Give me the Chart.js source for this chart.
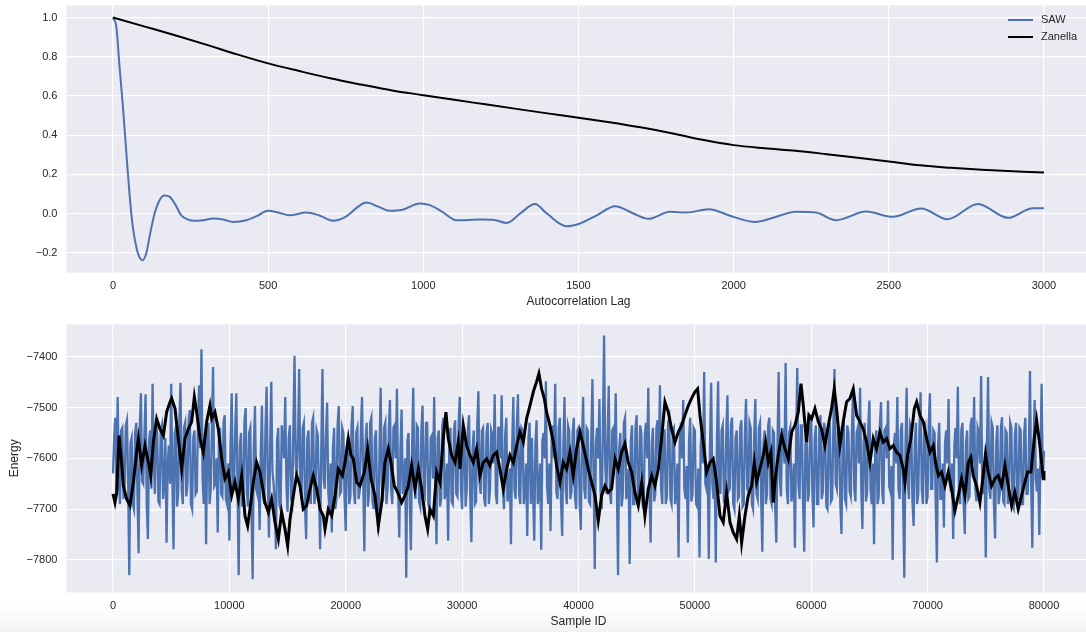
<!DOCTYPE html>
<html>
<head>
<meta charset="utf-8">
<script src="https://cdn.jsdelivr.net/npm/chart.js@4.4.1/dist/chart.umd.min.js"></script>
<style>
  html, body { margin: 0; padding: 0; background: #fff; overflow: hidden; }
  #wrap { position: relative; width: 1086px; height: 632px; overflow: hidden; }
  #shade { position: absolute; left: 0; right: 0; bottom: 0; height: 26px;
           background: linear-gradient(to bottom, rgba(0,0,0,0), rgba(0,0,0,0.05)); }
  canvas { position: absolute; left: 0; }
  #acf { top: 0; }
  #energy { top: 316px; }
</style>
</head>
<body>
<div id="wrap">
  <div id="shade"></div>
  <canvas id="acf" width="1092" height="316"></canvas>
  <canvas id="energy" width="1092" height="316"></canvas>
</div>
<script>
// ---- top panel: autocorrelation ----
const lagTicks = [0, 500, 1000, 1500, 2000, 2500, 3000];
const acfTicks = [-0.2, 0.0, 0.2, 0.4, 0.6, 0.8, 1.0];

const sawLag = [0, 11, 21, 32, 43, 54, 64, 75, 86, 95, 107, 120, 134, 150, 166, 183, 199, 220, 242, 263,
  290, 322, 355, 387, 430, 465, 499, 535, 569, 623, 665, 709, 752, 790, 816, 855, 891, 930, 989, 1021,
  1060, 1107, 1183, 1230, 1269, 1312, 1360, 1398, 1462, 1505, 1559, 1618, 1677, 1725, 1795, 1849, 1919, 1999, 2069, 2130,
  2201, 2265, 2330, 2427, 2513, 2604, 2690, 2787, 2884, 2964, 3000];
const sawAcf = [1.0, 0.95, 0.75, 0.545, 0.31, 0.085, -0.07, -0.17, -0.226, -0.238, -0.204, -0.10, 0.0, 0.068, 0.092, 0.085, 0.051, -0.009, -0.031, -0.037,
  -0.034, -0.026, -0.030, -0.043, -0.034, -0.012, 0.014, 0.004, -0.009, 0.005, -0.010, -0.037, -0.014, 0.035, 0.056, 0.035, 0.014, 0.018, 0.051, 0.043,
  0.010, -0.034, -0.031, -0.033, -0.048, 0.0, 0.048, 0.0, -0.065, -0.051, -0.009, 0.037, 0.0, -0.027, 0.009, 0.005, 0.022, -0.017, -0.043, -0.020,
  0.009, 0.005, -0.034, 0.010, -0.017, 0.026, -0.029, 0.049, -0.022, 0.027, 0.027];

const zanLag = [0, 100, 200, 300, 400, 500, 600, 700, 800, 900, 1000, 1100, 1200, 1300, 1400, 1500,
  1600, 1700, 1800, 1900, 2000, 2100, 2200, 2300, 2400, 2500, 2600, 2700, 2800, 2900, 3000];
const zanAcf = [1.0, 0.955, 0.91, 0.862, 0.812, 0.766, 0.727, 0.69, 0.658, 0.628, 0.604, 0.58, 0.557, 0.534, 0.511, 0.489,
  0.466, 0.44, 0.41, 0.376, 0.349, 0.333, 0.32, 0.303, 0.285, 0.266, 0.246, 0.233, 0.223, 0.216, 0.209];

// ---- bottom panel: energy trace ----
const sampleTicks = [0, 10000, 20000, 30000, 40000, 50000, 60000, 70000, 80000];
const energyTicks = [-7800, -7700, -7600, -7500, -7400];

const sampleStep = 200;   // SAW energies at samples 0, 200, 400, ... 80000
const sawEnergy = [
  -7630,-7520,-7479,-7690,-7540,-7660,-7525,-7830,-7560,-7700,-7530,-7787,-7472,-7650,-7474,-7759,-7545,-7453,-7670,-7550,
  -7690,-7535,-7655,-7766,-7575,-7453,-7779,-7540,-7670,-7451,-7690,-7530,-7650,-7505,-7700,-7545,-7665,-7456,-7385,-7690,
  -7769,-7530,-7660,-7420,-7650,-7746,-7540,-7675,-7515,-7690,-7762,-7472,-7660,-7472,-7830,-7550,-7680,-7501,-7695,-7540,
  -7838,-7497,-7670,-7741,-7496,-7690,-7459,-7756,-7449,-7650,-7779,-7540,-7700,-7560,-7479,-7705,-7535,-7690,-7398,-7640,
  -7424,-7680,-7530,-7759,-7545,-7690,-7520,-7670,-7555,-7779,-7424,-7660,-7490,-7700,-7746,-7540,-7680,-7497,-7665,-7550,
  -7743,-7560,-7675,-7497,-7690,-7540,-7665,-7479,-7783,-7530,-7670,-7520,-7700,-7545,-7746,-7461,-7685,-7530,-7660,-7485,
  -7690,-7535,-7463,-7756,-7504,-7650,-7835,-7550,-7781,-7461,-7680,-7540,-7695,-7496,-7670,-7530,-7700,-7555,-7479,-7769,
  -7545,-7680,-7520,-7665,-7762,-7540,-7690,-7525,-7675,-7479,-7700,-7550,-7660,-7515,-7765,-7545,-7685,-7468,-7670,-7540,
  -7695,-7530,-7660,-7555,-7474,-7690,-7540,-7476,-7700,-7520,-7665,-7769,-7479,-7680,-7474,-7690,-7545,-7670,-7753,-7530,
  -7560,-7762,-7525,-7675,-7780,-7550,-7448,-7690,-7743,-7535,-7453,-7680,-7520,-7753,-7479,-7690,-7545,-7665,-7520,-7700,
  -7540,-7741,-7479,-7680,-7545,-7690,-7444,-7818,-7540,-7483,-7700,-7358,-7670,-7457,-7690,-7540,-7472,-7830,-7550,-7675,
  -7520,-7665,-7808,-7535,-7690,-7515,-7680,-7550,-7700,-7530,-7461,-7766,-7540,-7670,-7525,-7456,-7690,-7545,-7675,-7520,
  -7690,-7540,-7665,-7795,-7530,-7485,-7680,-7766,-7520,-7670,-7545,-7695,-7795,-7540,-7430,-7660,-7798,-7451,-7680,-7805,
  -7448,-7670,-7535,-7690,-7476,-7660,-7520,-7700,-7545,-7675,-7525,-7690,-7483,-7665,-7540,-7700,-7483,-7680,-7530,-7784,
  -7545,-7670,-7520,-7690,-7550,-7766,-7430,-7675,-7560,-7412,-7690,-7540,-7665,-7776,-7422,-7680,-7535,-7784,-7540,-7670,
  -7520,-7736,-7535,-7690,-7515,-7665,-7545,-7700,-7530,-7680,-7424,-7660,-7540,-7749,-7525,-7690,-7550,-7675,-7464,-7685,
  -7540,-7461,-7739,-7530,-7670,-7486,-7690,-7769,-7545,-7675,-7489,-7690,-7540,-7486,-7665,-7800,-7550,-7479,-7680,-7530,
  -7835,-7461,-7680,-7545,-7733,-7530,-7670,-7470,-7690,-7540,-7675,-7472,-7660,-7550,-7805,-7530,-7680,-7736,-7545,-7483,
  -7665,-7759,-7540,-7459,-7690,-7530,-7749,-7545,-7675,-7520,-7479,-7685,-7550,-7438,-7670,-7795,-7440,-7680,-7540,-7758,
  -7535,-7670,-7519,-7690,-7550,-7665,-7540,-7700,-7530,-7680,-7545,-7690,-7520,-7670,-7428,-7776,-7485,-7665,-7751,-7453,
  -7585];
// SAW energies at the samples in between: 100, 300, 500, ... 79900
const sawEnergyMid = [
  -7560,-7665,-7640,-7545,-7680,-7535,-7650,-7570,-7690,-7550,-7670,-7540,-7645,-7555,-7690,-7565,-7660,-7600,-7530,-7685,
  -7545,-7680,-7560,-7610,-7650,-7640,-7550,-7695,-7530,-7660,-7540,-7675,-7525,-7690,-7560,-7670,-7535,-7580,-7640,-7550,
  -7555,-7690,-7540,-7655,-7600,-7560,-7670,-7530,-7680,-7610,-7570,-7660,-7545,-7650,-7575,-7695,-7525,-7665,-7550,-7700,
  -7580,-7660,-7620,-7590,-7675,-7545,-7640,-7580,-7625,-7690,-7565,-7690,-7535,-7600,-7650,-7560,-7680,-7540,-7610,-7560,
  -7650,-7540,-7695,-7560,-7675,-7530,-7690,-7545,-7660,-7575,-7640,-7555,-7665,-7610,-7580,-7700,-7535,-7670,-7540,-7680,
  -7575,-7690,-7535,-7665,-7550,-7680,-7545,-7640,-7570,-7695,-7530,-7685,-7560,-7690,-7590,-7650,-7540,-7690,-7545,-7660,
  -7540,-7600,-7660,-7580,-7670,-7600,-7565,-7690,-7580,-7650,-7535,-7685,-7545,-7660,-7530,-7690,-7560,-7640,-7650,-7560,
  -7695,-7535,-7680,-7610,-7570,-7685,-7545,-7670,-7530,-7660,-7555,-7695,-7540,-7675,-7580,-7690,-7535,-7650,-7545,-7680,
  -7550,-7690,-7545,-7610,-7670,-7540,-7600,-7660,-7555,-7685,-7620,-7580,-7660,-7535,-7670,-7540,-7690,-7610,-7560,-7690,
  -7670,-7570,-7690,-7610,-7565,-7600,-7655,-7610,-7560,-7600,-7665,-7540,-7685,-7575,-7660,-7535,-7680,-7550,-7675,-7545,
  -7690,-7565,-7660,-7540,-7685,-7560,-7640,-7570,-7600,-7665,-7540,-7610,-7560,-7665,-7545,-7610,-7655,-7580,-7695,-7530,
  -7680,-7620,-7565,-7690,-7540,-7675,-7535,-7690,-7555,-7600,-7665,-7570,-7685,-7540,-7610,-7660,-7545,-7690,-7530,-7680,
  -7545,-7690,-7610,-7570,-7600,-7660,-7615,-7565,-7685,-7540,-7690,-7620,-7575,-7610,-7650,-7615,-7575,-7650,-7620,-7560,
  -7655,-7545,-7685,-7550,-7665,-7535,-7690,-7560,-7680,-7540,-7695,-7550,-7660,-7530,-7690,-7555,-7670,-7540,-7680,-7570,
  -7690,-7535,-7680,-7545,-7695,-7580,-7640,-7540,-7610,-7660,-7550,-7685,-7610,-7570,-7650,-7535,-7690,-7575,-7685,-7545,
  -7670,-7560,-7690,-7540,-7680,-7530,-7695,-7550,-7685,-7545,-7650,-7540,-7690,-7570,-7680,-7535,-7665,-7545,-7660,-7550,
  -7610,-7660,-7570,-7685,-7540,-7660,-7610,-7565,-7690,-7535,-7665,-7545,-7600,-7655,-7615,-7575,-7610,-7660,-7545,-7690,
  -7580,-7650,-7535,-7685,-7565,-7690,-7540,-7660,-7550,-7690,-7530,-7660,-7545,-7690,-7575,-7680,-7610,-7570,-7610,-7650,
  -7610,-7575,-7600,-7665,-7545,-7690,-7570,-7680,-7535,-7610,-7660,-7540,-7610,-7655,-7620,-7575,-7660,-7530,-7690,-7570,
  -7690,-7540,-7685,-7545,-7690,-7530,-7695,-7555,-7680,-7540,-7690,-7550,-7670,-7600,-7650,-7580,-7640,-7620,-7590,-7640];

const zanSample = [0, 170, 320, 520, 690, 890, 1170, 1460, 1750, 2030, 2180, 2460, 2750, 3040, 3240, 3470, 3750, 4040, 4330, 4610,
  4900, 5040, 5330, 5610, 5900, 6190, 6470, 6760, 6990, 7190, 7480, 7760, 8050, 8330, 8480, 8760, 9050, 9340, 9620, 9910,
  10200, 10480, 10770, 11060, 11340, 11570, 11770, 12060, 12340, 12630, 12920, 13060, 13350, 13630, 13920, 14210, 14490, 14780, 15010, 15210,
  15500, 15780, 16070, 16350, 16640, 16930, 17210, 17500, 17790, 18070, 18220, 18500, 18790, 19080, 19360, 19710, 19940, 20220, 20450, 20650,
  20940, 21220, 21600, 21880, 22170, 22510, 22800, 23090, 23370, 23660, 23890, 24170, 24460, 24800, 25090, 25380, 25660, 25950, 26240, 26520,
  26810, 27040, 27240, 27530, 27810, 28100, 28380, 28610, 28810, 29100, 29390, 29670, 29820, 30100, 30390, 30680, 30960, 31250, 31530, 31820,
  32110, 32390, 32680, 32970, 33250, 33540, 33830, 34110, 34400, 34690, 34970, 35260, 35540, 35830, 36120, 36400, 36600, 36830, 37060, 37260,
  37550, 37840, 38120, 38410, 38690, 38980, 39270, 39550, 39840, 40130, 40410, 40840, 41130, 41420, 41700, 41990, 42280, 42560, 42850, 43140,
  43420, 43710, 43990, 44280, 44570, 44850, 45140, 45430, 45710, 46000, 46290, 46570, 46860, 47140, 47430, 47720, 48000, 48290, 48580, 48860,
  49150, 49440, 49720, 50010, 50240, 50440, 50720, 51010, 51300, 51580, 51870, 52160, 52440, 52730, 53020, 53300, 53590, 53820, 54020, 54310,
  54590, 54880, 55110, 55310, 55590, 55880, 56080, 56310, 56540, 56740, 56940, 57170, 57460, 57740, 58030, 58320, 58600, 58890, 59120, 59320,
  59600, 59800, 60030, 60320, 60610, 60890, 61180, 61470, 61750, 61980, 62180, 62470, 62750, 63040, 63330, 63610, 63900, 64190, 64470, 64760,
  65050, 65330, 65620, 65900, 66190, 66480, 66760, 67050, 67340, 67620, 67910, 68050, 68280, 68570, 68860, 69060, 69340, 69630, 69920, 70200,
  70490, 70690, 70920, 71200, 71490, 71780, 72060, 72350, 72640, 72920, 73210, 73500, 73720, 73920, 74210, 74500, 74780, 74980, 75210, 75500,
  75790, 76070, 76360, 76650, 76930, 77220, 77500, 77790, 78080, 78360, 78590, 78880, 79170, 79370, 79650, 79940, 80000];
const zanEnergy = [-7670, -7687, -7667, -7555, -7594, -7654, -7680, -7693, -7647, -7588, -7561, -7614, -7575, -7608, -7634, -7568, -7522, -7542, -7555, -7509,
  -7489, -7482, -7502, -7561, -7621, -7561, -7542, -7528, -7479, -7509, -7561, -7588, -7528, -7496, -7522, -7509, -7542, -7601, -7640, -7627,
  -7673, -7647, -7680, -7634, -7713, -7733, -7700, -7647, -7608, -7627, -7667, -7687, -7706, -7680, -7726, -7759, -7706, -7739, -7772, -7720,
  -7673, -7634, -7654, -7700, -7693, -7660, -7634, -7660, -7700, -7713, -7739, -7700, -7713, -7673, -7621, -7634, -7608, -7561, -7594, -7601,
  -7647, -7654, -7627, -7581, -7640, -7673, -7733, -7687, -7608, -7581, -7608, -7654, -7667, -7687, -7673, -7654, -7614, -7660, -7621, -7660,
  -7713, -7739, -7700, -7713, -7627, -7647, -7561, -7509, -7561, -7594, -7608, -7568, -7621, -7535, -7575, -7594, -7608, -7581, -7634, -7608,
  -7601, -7614, -7594, -7588, -7621, -7660, -7621, -7594, -7608, -7575, -7548, -7568, -7522, -7496, -7469, -7449, -7433, -7463, -7482, -7509,
  -7535, -7568, -7614, -7647, -7608, -7621, -7588, -7634, -7581, -7548, -7575, -7621, -7647, -7673, -7723, -7673, -7654, -7667, -7660, -7601,
  -7621, -7588, -7571, -7608, -7627, -7667, -7693, -7647, -7713, -7660, -7634, -7654, -7621, -7561, -7489, -7509, -7542, -7568, -7548, -7535,
  -7515, -7496, -7482, -7469, -7463, -7515, -7568, -7627, -7608, -7601, -7647, -7713, -7726, -7667, -7726, -7746, -7759, -7713, -7766, -7713,
  -7673, -7654, -7608, -7647, -7621, -7594, -7568, -7608, -7588, -7687, -7634, -7594, -7555, -7581, -7601, -7548, -7535, -7509, -7453, -7496,
  -7568, -7515, -7522, -7502, -7528, -7542, -7575, -7535, -7502, -7463, -7502, -7575, -7528, -7489, -7482, -7463, -7515, -7528, -7542, -7568,
  -7608, -7561, -7581, -7548, -7568, -7561, -7581, -7575, -7588, -7594, -7621, -7647, -7594, -7561, -7502, -7489, -7515, -7528, -7561, -7588,
  -7575, -7608, -7634, -7627, -7654, -7627, -7660, -7703, -7673, -7640, -7673, -7608, -7598, -7634, -7654, -7687, -7634, -7591, -7627, -7654,
  -7640, -7634, -7654, -7614, -7654, -7693, -7667, -7700, -7673, -7647, -7627, -7627, -7561, -7525, -7575, -7640, -7625];

const seriesNames = ['SAW', 'Zanella'];
const seriesColors = ['#4c72b0', '#000000'];

Chart.defaults.font.family = "'Liberation Sans', Arial, Helvetica, sans-serif";
Chart.defaults.color = '#262626';
Chart.defaults.animation = false;

const textColor = '#262626';
const minus = s => String(s).replace('-', '\u2212');

const plotBg = {
  id: 'plotBg',
  beforeDraw(chart) {
    const { ctx, chartArea: a } = chart;
    ctx.save();
    ctx.fillStyle = '#eaeaf2';
    ctx.fillRect(a.left, a.top, a.right - a.left, a.bottom - a.top);
    ctx.restore();
  }
};

// little matplotlib style legend in the upper right corner of the plot
const cornerLegend = {
  id: 'cornerLegend',
  afterDraw(chart) {
    const { ctx, chartArea: a } = chart;
    ctx.save();
    ctx.font = "11px 'Liberation Sans', Arial, sans-serif";
    ctx.textBaseline = 'middle';
    ctx.fillStyle = textColor;
    chart.data.datasets.forEach((ds, i) => {
      const y = a.top + 14.6 + i * 17;
      ctx.strokeStyle = ds.borderColor;
      ctx.lineWidth = 2;
      ctx.beginPath();
      ctx.moveTo(a.right - 82.5, y);
      ctx.lineTo(a.right - 57.5, y);
      ctx.stroke();
      ctx.fillText(ds.label, a.right - 49.5, y);
    });
    ctx.restore();
  }
};

function xAxis(min, max, tickList, title, height, titlePad) {
  return {
    type: 'linear', min: min, max: max,
    grid: { color: '#ffffff', lineWidth: 1.2, drawTicks: false },
    border: { display: false },
    ticks: { autoSkip: false, maxRotation: 0, padding: 7, color: textColor,
             font: { size: 11 }, callback: v => String(v) },
    afterBuildTicks: s => { s.ticks = tickList.map(v => ({ value: v })); },
    title: { display: true, text: title, color: textColor, font: { size: 12 },
             padding: { top: 0, bottom: titlePad } },
    afterFit: s => { s.height = height; s.paddingLeft = 0; s.paddingRight = 0; }
  };
}

function yAxis(min, max, tickList, fmt, title) {
  return {
    min: min, max: max,
    grid: { color: '#ffffff', lineWidth: 1.2, drawTicks: false },
    border: { display: false },
    ticks: { autoSkip: false, padding: 9, color: textColor, font: { size: 11 }, callback: fmt },
    afterBuildTicks: s => { s.ticks = tickList.map(v => ({ value: v })); },
    title: { display: !!title, text: title || '', color: textColor, font: { size: 12 },
             padding: { top: 7.8, bottom: 0 } },
    afterFit: s => { s.width = 66.45; s.paddingTop = 0; s.paddingBottom = 0; }
  };
}

const toPoints = (xs, ys) => ys.map((y, i) => ({ x: xs[i], y: y }));

// interleave the two SAW arrays into one trace
const sawTrace = [];
sawEnergy.forEach((e, i) => {
  sawTrace.push({ x: i * sampleStep, y: e });
  if (i < sawEnergyMid.length) sawTrace.push({ x: i * sampleStep + sampleStep / 2, y: sawEnergyMid[i] });
});

new Chart(document.getElementById('acf'), {
  type: 'line',
  data: {
    datasets: [
      { label: seriesNames[0], data: toPoints(sawLag, sawAcf), borderColor: seriesColors[0],
        borderWidth: 2, pointRadius: 0, cubicInterpolationMode: 'monotone', order: 1 },
      { label: seriesNames[1], data: toPoints(zanLag, zanAcf), borderColor: seriesColors[1],
        borderWidth: 2, pointRadius: 0, cubicInterpolationMode: 'monotone', order: 0 }
    ]
  },
  options: {
    responsive: false,
    parsing: false,
    layout: { padding: { top: 5.4, right: 1.5, left: 0, bottom: 0 } },
    plugins: { legend: { display: false }, tooltip: { enabled: false } },
    scales: {
      x: xAxis(-150, 3150, lagTicks, 'Autocorrelation Lag', 43.3, 7.1),
      y: yAxis(-0.302, 1.062, acfTicks, v => minus(v.toFixed(1)))
    }
  },
  plugins: [plotBg, cornerLegend]
});

new Chart(document.getElementById('energy'), {
  type: 'line',
  data: {
    datasets: [
      { label: seriesNames[0], data: sawTrace,
        borderColor: seriesColors[0], borderWidth: 2.3, pointRadius: 0, tension: 0, order: 1 },
      { label: seriesNames[1], data: toPoints(zanSample, zanEnergy),
        borderColor: seriesColors[1], borderWidth: 3, pointRadius: 0, tension: 0, order: 0 }
    ]
  },
  options: {
    responsive: false,
    parsing: false,
    layout: { padding: { top: 8.3, right: 1.5, left: 0, bottom: 0 } },
    plugins: { legend: { display: false }, tooltip: { enabled: false } },
    scales: {
      x: xAxis(-4000, 84000, sampleTicks, 'Sample ID', 39.6, 3.1),
      y: yAxis(-7864, -7336, energyTicks, v => minus(v), 'Energy')
    }
  },
  plugins: [plotBg]
});
</script>
</body>
</html>
